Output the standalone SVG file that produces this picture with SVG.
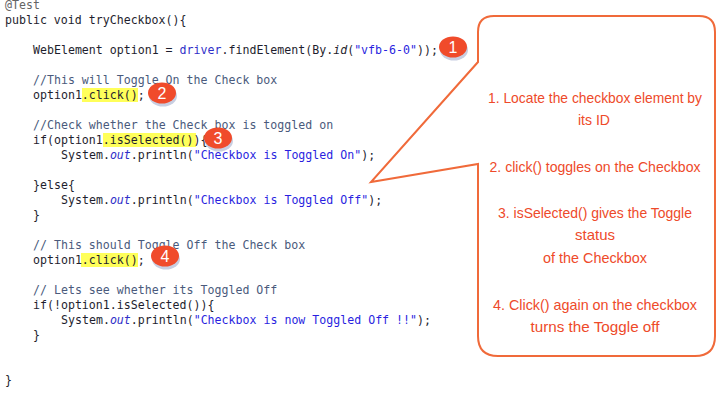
<svg xmlns="http://www.w3.org/2000/svg" width="728" height="420" viewBox="0 0 728 420">
<style>
.code{font-family:"DejaVu Sans Mono","Liberation Mono",monospace;font-size:11.6px;fill:#1e1e2e;white-space:pre}
.ann{fill:#646464}
.cm{fill:#4a5a7c}
.fld{fill:#2f2fc8}
.str{fill:#2a1fe0}
.it{font-style:italic}
.hl{fill:#ffff5a}
.badge{fill:#f04b2b}
.shadow{fill:#9aa6c8;opacity:0.55}
.num{font-family:"Liberation Sans",Arial,sans-serif;font-size:16px;fill:#ffffff;text-anchor:middle}
.note{font-family:"Liberation Sans",Arial,sans-serif;font-size:15px;fill:#ee4a2a;text-anchor:middle}
</style>
<rect width="728" height="420" fill="#ffffff"/>

<g id="highlights">
<rect class="hl" x="82" y="88" width="56" height="14"/>
<rect class="hl" x="103" y="133" width="93" height="14"/>
<rect class="hl" x="81" y="253" width="57" height="14"/>
</g>

<g id="code" class="code">
<text x="5" y="9" class="ann">@Test</text>
<text x="5" y="24">public void tryCheckbox(){</text>
<text x="33" y="54">WebElement option1 = <tspan class="fld">driver</tspan>.findElement(By.<tspan class="it">id</tspan>(<tspan class="str">"vfb-6-0"</tspan>));</text>
<text x="33" y="84" class="cm">//This will Toggle On the Check box</text>
<text x="33" y="99">option1.click();</text>
<text x="33" y="129" class="cm">//Check whether the Check box is toggled on</text>
<text x="33" y="144">if(option1.isSelected()){</text>
<text x="61" y="159">System.<tspan class="fld it">out</tspan>.println(<tspan class="str">"Checkbox is Toggled On"</tspan>);</text>
<text x="33" y="189">}else{</text>
<text x="61" y="204">System.<tspan class="fld it">out</tspan>.println(<tspan class="str">"Checkbox is Toggled Off"</tspan>);</text>
<text x="33" y="219">}</text>
<text x="33" y="249" class="cm">// This should Toggle Off the Check box</text>
<text x="33" y="264">option1.click();</text>
<text x="33" y="294" class="cm">// Lets see whether its Toggled Off</text>
<text x="33" y="309">if(!option1.isSelected()){</text>
<text x="61" y="324">System.<tspan class="fld it">out</tspan>.println(<tspan class="str">"Checkbox is now Toggled Off !!"</tspan>);</text>
<text x="33" y="339">}</text>
<text x="5" y="384">}</text>
</g>

<g id="callout">
<path d="M 494 16 H 699 Q 715 16 715 32 V 336 Q 715 356 695 356 H 498 Q 478 356 478 336 V 164 L 371 182 L 478 62 V 32 Q 478 16 494 16 Z" fill="#ffffff" stroke="#f06a3a" stroke-width="2" stroke-linejoin="miter"/>
<text class="note" x="595" y="103" textLength="214" lengthAdjust="spacingAndGlyphs">1. Locate the checkbox element by</text>
<text class="note" x="594" y="125" textLength="32" lengthAdjust="spacingAndGlyphs">its ID</text>
<text class="note" x="595" y="172" textLength="211" lengthAdjust="spacingAndGlyphs">2. click() toggles on the Checkbox</text>
<text class="note" x="595" y="218" textLength="194" lengthAdjust="spacingAndGlyphs">3. isSelected() gives  the Toggle</text>
<text class="note" x="595" y="240" textLength="40" lengthAdjust="spacingAndGlyphs">status</text>
<text class="note" x="595" y="263" textLength="104" lengthAdjust="spacingAndGlyphs">of the Checkbox</text>
<text class="note" x="595" y="310" textLength="204" lengthAdjust="spacingAndGlyphs">4. Click() again on the checkbox</text>
<text class="note" x="595" y="332" textLength="129" lengthAdjust="spacingAndGlyphs">turns the Toggle off</text>
</g>

<g id="badge1">
<ellipse class="shadow" cx="454" cy="50" rx="14" ry="10.5"/>
<ellipse class="badge" cx="453" cy="47" rx="14" ry="10.5"/>
<text class="num" x="453" y="53">1</text>
</g>
<g id="badge2">
<ellipse class="shadow" cx="163" cy="96" rx="14" ry="10.5"/>
<ellipse class="badge" cx="162" cy="93" rx="14" ry="10.5"/>
<text class="num" x="162" y="99">2</text>
</g>
<g id="badge3">
<ellipse class="shadow" cx="219" cy="141" rx="14" ry="10.5"/>
<ellipse class="badge" cx="218" cy="138" rx="14" ry="10.5"/>
<text class="num" x="218" y="144">3</text>
</g>
<g id="badge4">
<ellipse class="shadow" cx="166" cy="259" rx="14" ry="10.5"/>
<ellipse class="badge" cx="165" cy="256" rx="14" ry="10.5"/>
<text class="num" x="165" y="262">4</text>
</g>
</svg>
